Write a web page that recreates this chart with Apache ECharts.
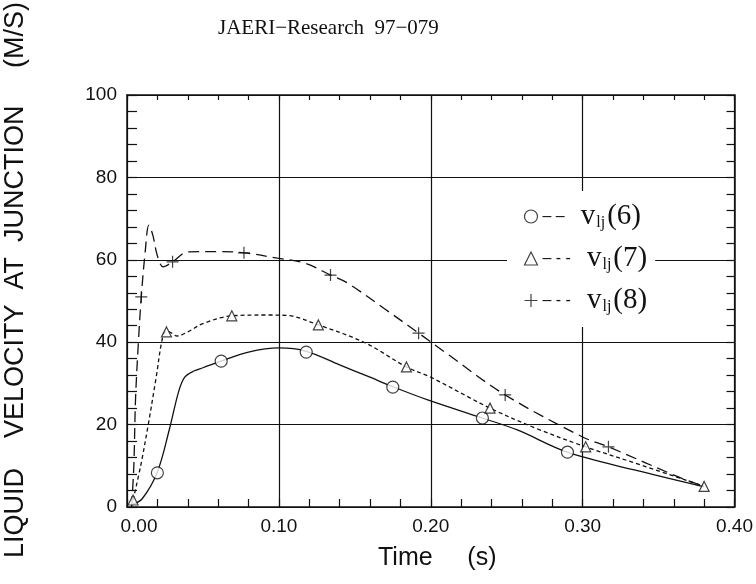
<!DOCTYPE html>
<html><head><meta charset="utf-8">
<script src="https://cdn.jsdelivr.net/npm/echarts@6/dist/echarts.min.js"></script>
<style>html,body{margin:0;padding:0;background:#fff}#c{width:756px;height:584px}</style>
</head><body><div id="c"></div>
<script>
// ---- data ----
const titleText = 'JAERI\u2212Research  97\u2212079';
const xTitle = 'Time     (s)';
const yTitle = 'LIQUID    VELOCITY  AT  JUNCTION     (M/S)';
const seriesNames = ['v6', 'v7', 'v8'];
const legendIdx = ['(6)', '(7)', '(8)'];

// v_lj(6): solid curve
const v6Curve = [[0.003,0.5],[0.01,2],[0.02,8.5],[0.028,19],[0.034,28],[0.038,31.5],[0.044,33],[0.05,33.8],[0.062,35.4],[0.08,37.6],[0.10,38.6],[0.118,37.8],[0.14,34.5],[0.16,31.5],[0.175,29.2],[0.198,26],[0.234,21.6],[0.257,18.7],[0.29,13.3],[0.334,9],[0.38,4.9]];
const v6Marks = [[0.02,8.3],[0.062,35.4],[0.118,37.6],[0.175,29.1],[0.234,21.6],[0.29,13.3]];

// v_lj(7): short-dashed curve
const v7Curve = [[0.004,1.7],[0.009,10],[0.014,20],[0.019,31],[0.024,42],[0.027,42.6],[0.033,41.5],[0.04,42.5],[0.05,44.5],[0.069,46.4],[0.091,46.6],[0.105,46.5],[0.126,44.2],[0.157,39.8],[0.184,34],[0.2,31.5],[0.239,24],[0.27,19],[0.302,14.6],[0.34,10],[0.38,5]];
const v7Marks = [[0.004,1.7],[0.026,42.5],[0.069,46.4],[0.126,44.2],[0.184,34],[0.239,24],[0.302,14.6],[0.38,5]];

// v_lj(8): long-dashed curve
const v8Curve = [[0.003,0],[0.0045,10],[0.0056,26],[0.0075,40],[0.0094,51],[0.012,62],[0.0144,68.4],[0.017,66],[0.02,61],[0.0238,58.3],[0.03,59.5],[0.04,61.9],[0.06,62],[0.077,61.7],[0.099,60.4],[0.117,59.2],[0.134,56.3],[0.145,54.4],[0.17,48],[0.192,42.2],[0.21,37.4],[0.249,27.2],[0.30,17],[0.317,14.6],[0.365,7],[0.38,5]];
const v8Marks = [[0.0094,51],[0.03,59.5],[0.077,61.7],[0.134,56.3],[0.192,42.2],[0.249,27.2],[0.317,14.6]];

const xMin = 0, xMax = 0.4, xStep = 0.1;
const yMin = 0, yMax = 100, yStep = 20;

// ---- chart ----
const chart = echarts.init(document.getElementById('c'), null, {renderer: 'canvas'});
const ink = '#111';
const sans = 'Liberation Sans, Arial, sans-serif';
const serif = 'Liberation Serif, Times New Roman, serif';
const plusPath = 'path://M0,5L10,5M5,0L5,10';

function xAx(pos, tickLen, labels, split) {
  return {
    type: 'value', min: xMin, max: xMax, interval: xStep, position: pos,
    axisLine: {show: true, onZero: false, lineStyle: {color: ink, width: 1.5}},
    axisTick: {show: true, inside: true, length: tickLen, lineStyle: {color: ink, width: 1.2}},
    minorTick: {show: true, splitNumber: 5, length: tickLen, lineStyle: {color: ink, width: 1.2}},
    axisLabel: {show: labels, margin: 10, color: ink, fontFamily: sans, fontSize: 19,
      formatter: v => v === 0 ? '{z|' + v.toFixed(2) + '}' : v.toFixed(2),
      rich: {z: {fontFamily: sans, fontSize: 19, color: ink, padding: [0, 0, 0, 24]}}},
    splitLine: {show: split, lineStyle: {color: ink, width: 1.2}}
  };
}
function yAx(pos, tickLen, labels, split) {
  return {
    type: 'value', min: yMin, max: yMax, interval: yStep, position: pos,
    axisLine: {show: true, onZero: false, lineStyle: {color: ink, width: 1.5}},
    axisTick: {show: true, inside: true, length: tickLen, lineStyle: {color: ink, width: 1.2}},
    minorTick: {show: true, splitNumber: 5, length: tickLen, lineStyle: {color: ink, width: 1.2}},
    axisLabel: {show: labels, margin: 10, color: ink, fontFamily: sans, fontSize: 19},
    splitLine: {show: split, lineStyle: {color: ink, width: 1.2}}
  };
}

const markerStyles = [
  {symbol: 'circle', symbolSize: 12, itemStyle: {color: '#fff', borderColor: ink, borderWidth: 1.2}},
  {symbol: 'triangle', symbolSize: 10, itemStyle: {color: '#fff', borderColor: ink, borderWidth: 1.2}},
  {symbol: plusPath, symbolSize: 12, itemStyle: {color: 'none', borderColor: ink, borderWidth: 1.2}}
];
const lineStyles = [
  {color: ink, width: 1.3, type: 'solid'},
  {color: ink, width: 1.3, type: [4, 3]},
  {color: ink, width: 1.3, type: [11, 6]}
];
const curves = [v6Curve, v7Curve, v8Curve];
const marks = [v6Marks, v7Marks, v8Marks];

const series = [];
for (let i = 0; i < 3; i++) {
  series.push({
    name: seriesNames[i] + '_line', type: 'line', data: curves[i], smooth: 0.35,
    showSymbol: false, lineStyle: lineStyles[i], z: 3, silent: true
  });
  series.push(Object.assign({
    name: seriesNames[i], type: 'scatter', data: marks[i], z: 4, silent: true
  }, markerStyles[i]));
}

chart.setOption({
  animation: false,
  backgroundColor: '#fff',
  grid: {left: 127, right: 17, top: 95, bottom: 77, containLabel: false},
  xAxis: [xAx('bottom', 8, true, true), xAx('top', 5, false, false)],
  yAxis: [yAx('left', 10, true, true), yAx('right', 8, false, false)],
  legend: {
    orient: 'vertical', left: 507, top: 191, selectedMode: false,
    backgroundColor: '#fff', padding: [11, 8, 12, 15], itemGap: 13,
    itemWidth: 13, itemHeight: 13,
    data: seriesNames.map((n, i) => ({name: n, icon: i === 0 ? 'circle' : i === 1 ? 'triangle' : plusPath,
      itemStyle: markerStyles[i].itemStyle})),
    formatter: name => {
      const i = seriesNames.indexOf(name);
      return '{d|' + (i === 0 ? '\u2013 \u2013' : '\u2013 - -') + '}{sp| }{v|v}{s|lj}{v|' + legendIdx[i] + '}';
    },
    textStyle: {
      color: ink,
      rich: {
        d: {fontFamily: sans, fontSize: 16, color: ink, lineHeight: 30},
        sp: {fontSize: 12, width: 16, lineHeight: 30},
        v: {fontFamily: serif, fontSize: 29, color: ink, lineHeight: 30},
        s: {fontFamily: serif, fontSize: 16, color: ink, lineHeight: 30, padding: [13, 2, 0, 1]}
      }
    }
  },
  graphic: [
    {type: 'text', left: 218, top: 18, style: {text: titleText, font: '21px ' + serif, fill: ink}},
    {type: 'text', x: 378, y: 558, style: {text: xTitle, font: '25px ' + sans, fill: ink, textAlign: 'left', textVerticalAlign: 'middle'}},
    {type: 'text', x: 16, y: 558, rotation: Math.PI / 2,
      style: {text: yTitle, font: '27px ' + sans, fill: ink, textAlign: 'left', textVerticalAlign: 'middle'}}
  ],
  series: series
});
</script></body></html>
